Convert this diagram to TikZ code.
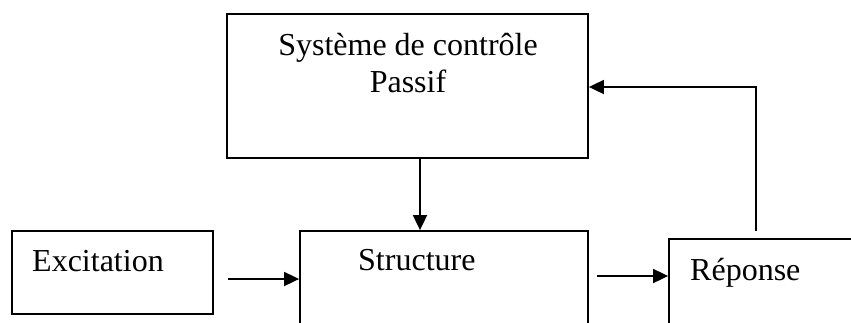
\documentclass[tikz,border=0pt]{standalone}
\usepackage{fontspec}
\setmainfont{Liberation Serif}
\usetikzlibrary{arrows.meta}
\begin{document}
\begin{tikzpicture}[x=1pt,y=-1pt,
  blk/.style={draw,line width=1.8pt,rectangle,inner sep=0pt},
  lbl/.style={anchor=base west,inner sep=0pt,font=\fontsize{32}{38}\selectfont},
  lblc/.style={anchor=base,inner sep=0pt,font=\fontsize{32}{38}\selectfont},
  arr/.style={line width=1.8pt,-{Triangle[length=15pt,width=14pt]}}]
\useasboundingbox (0,0) rectangle (851,322);
\clip (0,0) rectangle (851,322);
% boxes
\node[blk,minimum width=361pt,minimum height=144pt] (ctrl) at (407.5,86) {};
\node[blk,minimum width=201pt,minimum height=83pt] (exc) at (112.5,272.5) {};
\node[blk,minimum width=288pt,minimum height=160pt] (struct) at (444,311) {};
\node[blk,minimum width=260pt,minimum height=160pt] (rep) at (799,319) {};
% texts
\node[lblc] (t1) at (408,55) {Système de contrôle};
\node[lblc] (t2) at (408,92) {Passif};
\node[lbl] (t3) at (32,271) {Excitation};
\node[lbl] (t4) at (358,270) {Structure};
\node[lbl] (t5) at (690,280) {Réponse};
% connectors
\coordinate (d) at (420,0);
\draw[arr] (ctrl.south -| d) -- (struct.north -| d);
\coordinate (a1) at (228,279);
\draw[arr] (a1) -- (struct.west |- a1);
\coordinate (a2) at (597,276);
\draw[arr] (a2) -- (rep.west |- a2);
\coordinate (f0) at (756,231);
\coordinate (f1) at (756,87);
\draw[arr] (f0) -- (f1) -- (ctrl.east |- f1);
\end{tikzpicture}
\end{document}
